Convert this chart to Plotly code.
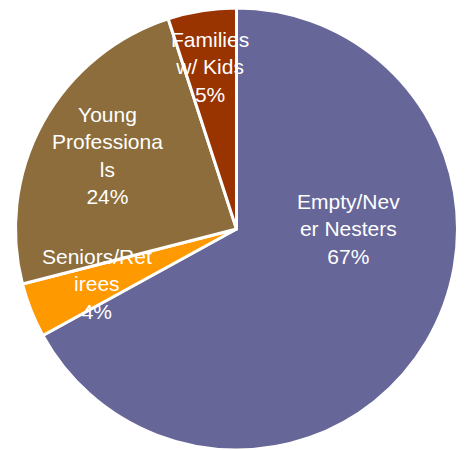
import plotly.graph_objects as go

# Household segments, shown clockwise from 12 o'clock
segments = ["Empty/Never Nesters", "Seniors/Retirees", "Young Professionals", "Families w/ Kids"]
wrapped_names = ["Empty/Nev<br>er Nesters", "Seniors/Ret<br>irees", "Young<br>Professiona<br>ls", "Families<br>w/ Kids"]
shares = [67, 4, 24, 5]
slice_colors = ["#666699", "#FF9900", "#8C6D3B", "#993300"]

# Label anchor points (paper coordinates) for each segment
label_x = [0.743, 0.196, 0.218, 0.442]
label_y = [0.500, 0.376, 0.667, 0.867]

fig = go.Figure(
    go.Pie(
        labels=segments,
        values=shares,
        sort=False,
        direction="clockwise",
        rotation=0,
        marker=dict(colors=slice_colors, line=dict(color="white", width=3)),
        textinfo="none",
        hoverinfo="label+percent",
        showlegend=False,
    )
)

for name, share, x, y in zip(wrapped_names, shares, label_x, label_y):
    fig.add_annotation(
        x=x, y=y, xref="paper", yref="paper",
        text=f"{name}<br>{share}%",
        showarrow=False,
        font=dict(family="Liberation Sans, Arial, sans-serif", size=21, color="white"),
        align="center",
        xanchor="center", yanchor="middle",
    )

fig.update_layout(
    width=466, height=450,
    margin=dict(l=7, r=0, t=8, b=0),
    paper_bgcolor="white",
    plot_bgcolor="white",
)

fig.write_html("out.html")
